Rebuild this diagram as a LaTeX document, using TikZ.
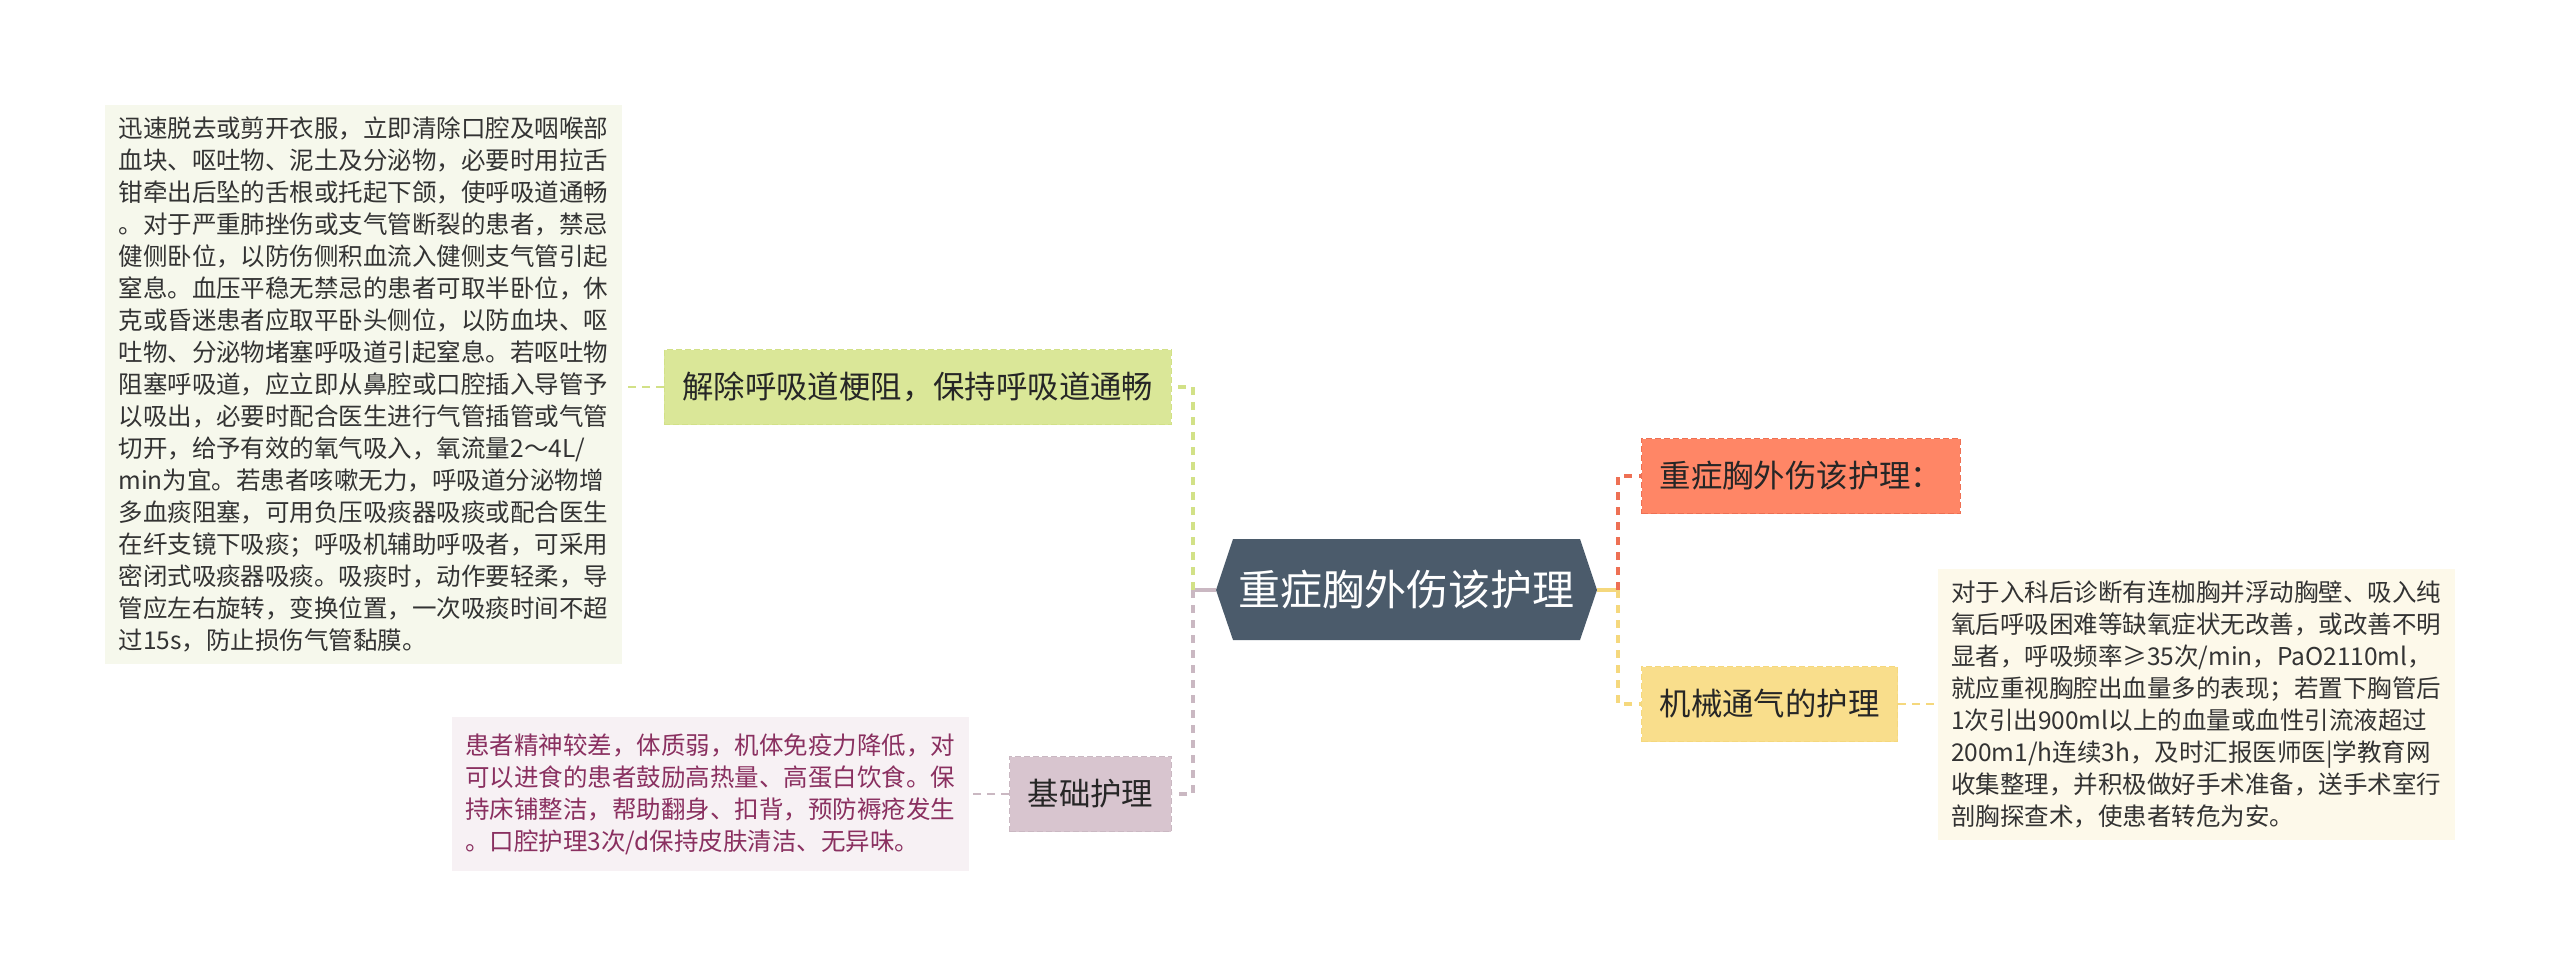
\documentclass[tikz,border=0pt]{standalone}
\usepackage{fontspec}
\setmainfont{Noto Sans CJK SC}

\definecolor{rootcol}{RGB}{75,91,107}
\definecolor{greenfill}{RGB}{218,231,152}
\definecolor{greenline}{RGB}{210,225,135}
\definecolor{mauvefill}{RGB}{216,197,207}
\definecolor{mauveline}{RGB}{202,184,194}
\definecolor{redfill}{RGB}{255,134,102}
\definecolor{redline}{RGB}{238,112,84}
\definecolor{yellowfill}{RGB}{249,222,140}
\definecolor{yellowline}{RGB}{245,216,125}
\definecolor{leafgreen}{RGB}{246,248,236}
\definecolor{leafpink}{RGB}{247,241,244}
\definecolor{leafcream}{RGB}{253,249,234}
\definecolor{pinktext}{RGB}{138,48,96}
\definecolor{darktext}{RGB}{51,51,51}

\newcommand{\leaffont}{\fontsize{12.25pt}{16pt}\selectfont}
\newcommand{\branchfont}{\fontsize{15.7pt}{18pt}\selectfont}
\newcommand{\rootfont}{\fontsize{21pt}{24pt}\selectfont}

\begin{document}
\begin{tikzpicture}[x=0.5pt,y=-0.5pt]
\tikzstyle{leaf} = [align=left,inner xsep=6.75pt,inner ysep=6pt,font=\leaffont,text=darktext] %texte
\tikzstyle{branch} = [inner xsep=9pt,minimum height=37.5pt,font=\branchfont,text=black!85,line width=0.7pt,dash pattern=on 3pt off 1.5pt]
\tikzstyle{trunk} = [line width=1.6pt,dash pattern=on 4pt off 3.5pt]
\tikzstyle{twig} = [line width=1pt,dash pattern=on 4pt off 3pt]

%cadre
\fill[white] (0,0) rectangle (2560,975);
\useasboundingbox (0,0) rectangle (2560,975);

%racine
\fill[rootcol] (1216,590)--(1233,539)--(1580,539)--(1597,590)--(1580,640)--(1233,640)--cycle;
\node[font=\rootfont,text=white] (root) at (1406.5,590) {重症胸外伤该护理};
\coordinate (rootW) at (1216,590);
\coordinate (rootE) at (1597,590);
\coordinate (forkL) at (1193,590);
\coordinate (forkR) at (1618,590);

%branches
\node[branch,anchor=east,fill=greenfill,draw=greenline] (airway) at (1172,387) {解除呼吸道梗阻，保持呼吸道通畅};
\node[branch,anchor=east,fill=mauvefill,draw=mauveline] (basic) at (1172,794) {基础护理};
\node[branch,anchor=west,fill=redfill,draw=redline] (severe) at (1641,476) {重症胸外伤该护理：};
\node[branch,anchor=west,fill=yellowfill,draw=yellowline] (vent) at (1641,704) {机械通气的护理};

%textes
\node[leaf,fill=leafgreen] (airwaytxt) at (363.5,384.5) {迅速脱去或剪开衣服，立即清除口腔及咽喉部\\
血块、呕吐物、泥土及分泌物，必要时用拉舌\\
钳牵出后坠的舌根或托起下颌，使呼吸道通畅\\
。对于严重肺挫伤或支气管断裂的患者，禁忌\\
健侧卧位，以防伤侧积血流入健侧支气管引起\\
窒息。血压平稳无禁忌的患者可取半卧位，休\\
克或昏迷患者应取平卧头侧位，以防血块、呕\\
吐物、分泌物堵塞呼吸道引起窒息。若呕吐物\\
阻塞呼吸道，应立即从鼻腔或口腔插入导管予\\
以吸出，必要时配合医生进行气管插管或气管\\
切开，给予有效的氧气吸入，氧流量2～4L/\\
min为宜。若患者咳嗽无力，呼吸道分泌物增\\
多血痰阻塞，可用负压吸痰器吸痰或配合医生\\
在纤支镜下吸痰；呼吸机辅助呼吸者，可采用\\
密闭式吸痰器吸痰。吸痰时，动作要轻柔，导\\
管应左右旋转，变换位置，一次吸痰时间不超\\
过15s，防止损伤气管黏膜。};
\node[leaf,fill=leafpink,text=pinktext,inner ysep=8pt] (basictxt) at (710,794) {患者精神较差，体质弱，机体免疫力降低，对\\
可以进食的患者鼓励高热量、高蛋白饮食。保\\
持床铺整洁，帮助翻身、扣背，预防褥疮发生\\
。口腔护理3次/d保持皮肤清洁、无异味。};
\node[leaf,fill=leafcream] (venttxt) at (2196,704.5) {对于入科后诊断有连枷胸并浮动胸壁、吸入纯\\
氧后呼吸困难等缺氧症状无改善，或改善不明\\
显者，呼吸频率≥35次/min，PaO2110ml，\\
就应重视胸腔出血量多的表现；若置下胸管后\\
1次引出900ml以上的血量或血性引流液超过\\
200m1/h连续3h，及时汇报医师医|学教育网\\
收集整理，并积极做好手术准备，送手术室行\\
剖胸探查术，使患者转危为安。};

%liens
\draw[trunk,mauveline,solid] (rootW)--(forkL);
\draw[trunk,greenline] (forkL) |- (airway.east);
\draw[trunk,mauveline] (forkL) |- (basic.east);
\draw[trunk,yellowline,solid] (rootE)--(forkR);
\draw[trunk,redline] (forkR) |- (severe.west);
\draw[trunk,yellowline] (forkR) |- (vent.west);
\draw[twig,greenline] (airway.west)--(airway.west -| airwaytxt.east);
\draw[twig,mauveline] (basic.west)--(basic.west -| basictxt.east);
\draw[twig,yellowline] (vent.east)--(vent.east -| venttxt.west);
\end{tikzpicture}
\end{document}
